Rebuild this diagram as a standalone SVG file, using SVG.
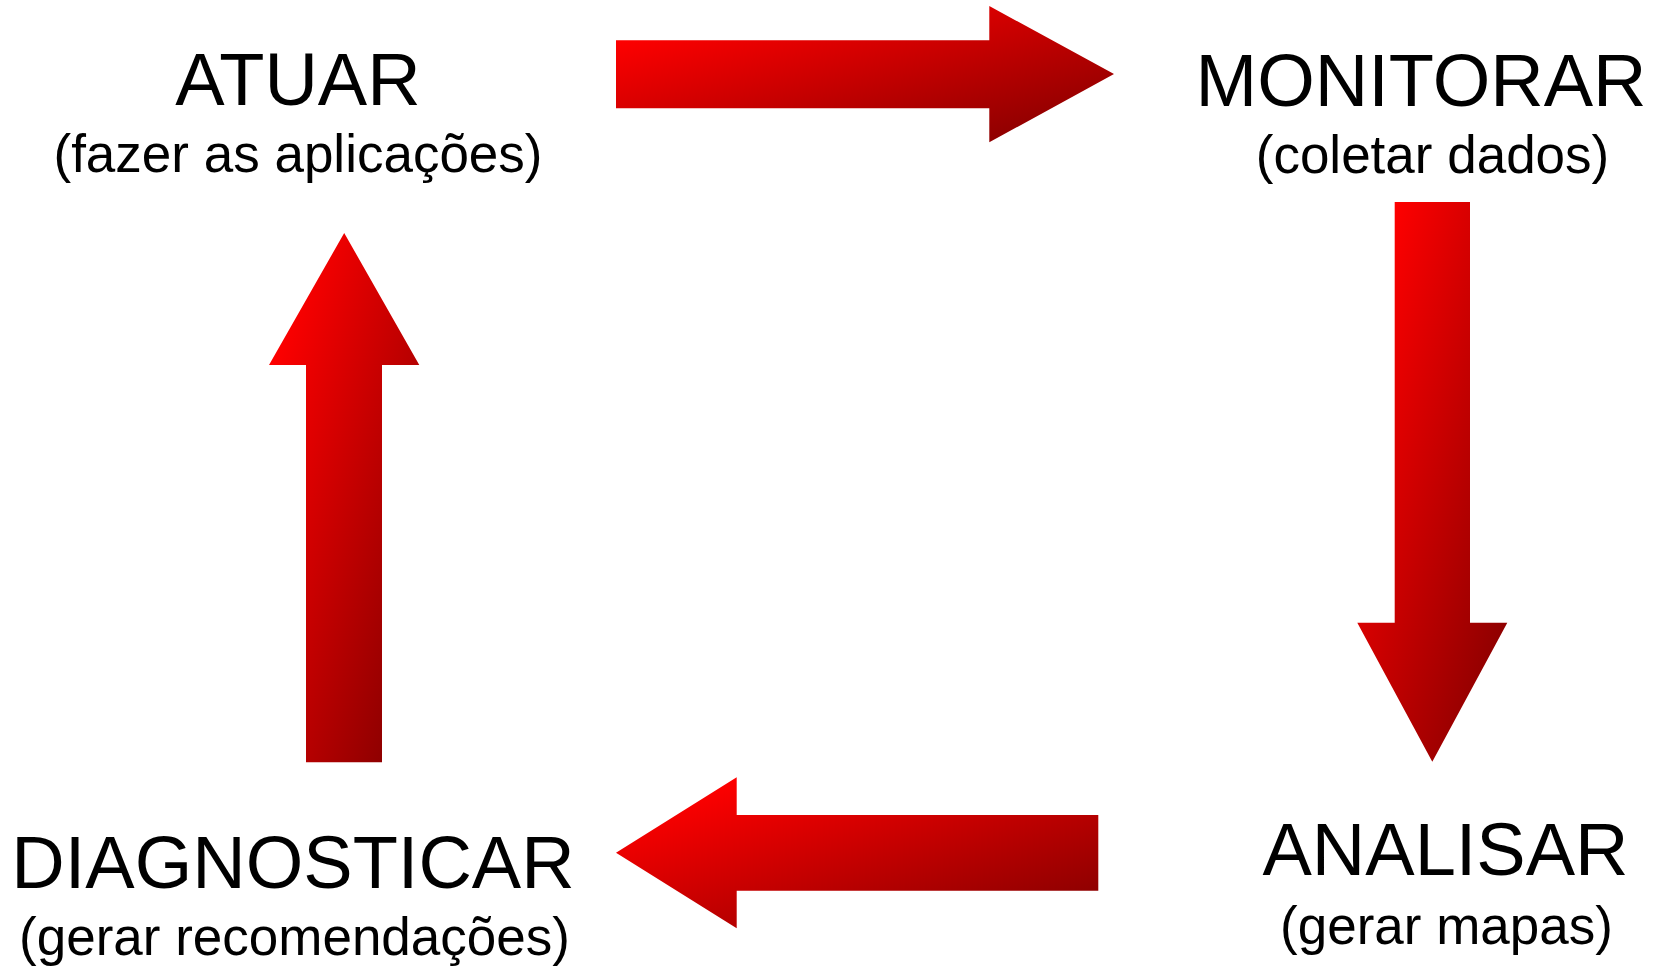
<svg xmlns="http://www.w3.org/2000/svg" width="1661" height="967" viewBox="0 0 1661 967">
  <defs>
    <linearGradient id="red" x1="0" y1="0" x2="1" y2="1">
      <stop offset="0.12" stop-color="#ff0000"/>
      <stop offset="1" stop-color="#7d0000"/>
    </linearGradient>
    <style>
      .t { font-family: "Liberation Sans", Arial, sans-serif; font-size: 74px; fill: #000; text-anchor: middle; }
      .s { font-family: "Liberation Sans", Arial, sans-serif; font-size: 53px; fill: #000; text-anchor: middle; }
      .arrow { fill: url(#red); }
    </style>
  </defs>
  <rect width="1661" height="967" fill="#fff"/>
  <g id="connectors">
    <polygon class="arrow" points="616,40.3 989.3,40.3 989.3,6 1114,74 989.3,142.3 989.3,108.3 616,108.3"/>
    <polygon class="arrow" points="1394.7,202 1470,202 1470,622.7 1507.3,622.7 1432.3,761.7 1357.3,622.7 1394.7,622.7"/>
    <polygon class="arrow" points="1098.3,815 736.7,815 736.7,777.3 616,852.7 736.7,928.3 736.7,890.7 1098.3,890.7"/>
    <polygon class="arrow" points="306,762.3 306,365 269,365 344.2,233 419.3,365 382,365 382,762.3"/>
  </g>
  <g id="atuar">
    <text class="t" x="298" y="105">ATUAR</text>
    <text class="s" x="298" y="172">(fazer as aplicações)</text>
  </g>
  <g id="monitorar">
    <text class="t" x="1421" y="105.5">MONITORAR</text>
    <text class="s" x="1432.5" y="173">(coletar dados)</text>
  </g>
  <g id="analisar">
    <text class="t" x="1445.5" y="874.5">ANALISAR</text>
    <text class="s" x="1446.5" y="944">(gerar mapas)</text>
  </g>
  <g id="diagnosticar">
    <text class="t" x="293" y="887.5">DIAGNOSTICAR</text>
    <text class="s" x="294.5" y="955">(gerar recomendações)</text>
  </g>
</svg>
